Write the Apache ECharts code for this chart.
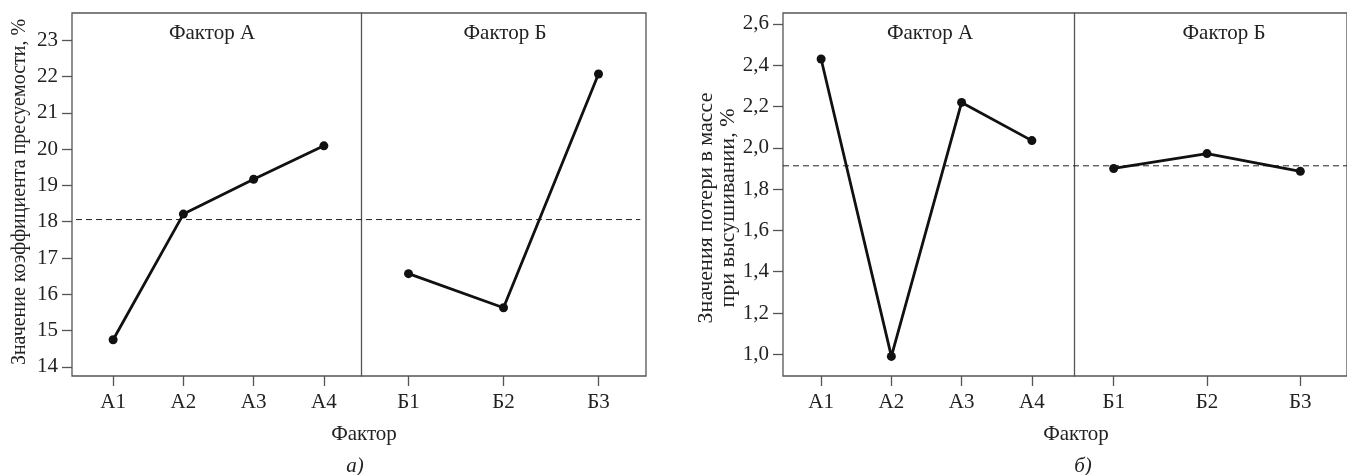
<!DOCTYPE html>
<html>
<head>
<meta charset="utf-8">
<script src="https://cdn.jsdelivr.net/npm/echarts@6/dist/echarts.min.js"></script>
<style>
  html, body { margin: 0; padding: 0; background: #fff; }
  #chart { width: 1347px; height: 475px; }
</style>
</head>
<body>
<div id="chart"></div>
<script>
// категории
const catA = ['А1', 'А2', 'А3', 'А4'];
const catB = ['Б1', 'Б2', 'Б3'];

// а) коэффициент пресуемости
const pressA = [14.75, 18.21, 19.17, 20.09];
const pressB = [16.57, 15.63, 22.07];
const pressMean = [18.06];
const pressTicks = [14, 15, 16, 17, 18, 19, 20, 21, 22, 23];

// б) потеря в массе при высушивании
const lossA = [2.43, 0.99, 2.22, 2.035];
const lossB = [1.90, 1.972, 1.886];
const lossMean = [1.913];
const lossTicks = [1.0, 1.2, 1.4, 1.6, 1.8, 2.0, 2.2, 2.4, 2.6];

const font = '"Liberation Serif", "Times New Roman", serif';
const axisGray = '#555';
const fs = 21;

const chart = echarts.init(document.getElementById('chart'));

function frameY(min, max, ticks, fmt) {
  return {
    type: 'value', min: min, max: max,
    axisLine: { show: false },
    axisTick: { show: true, customValues: ticks, length: 10, lineStyle: { color: axisGray, width: 1.3 } },
    axisLabel: { show: true, customValues: ticks, margin: 14, color: '#222', fontFamily: font, fontSize: fs, formatter: fmt },
    splitLine: { show: false }
  };
}
function hiddenY(min, max, gridIndex) {
  return { type: 'value', min: min, max: max, gridIndex: gridIndex, show: false, splitLine: { show: false } };
}
function dividerY(min, max, gridIndex, offset) {
  return {
    type: 'value', min: min, max: max, gridIndex: gridIndex, offset: offset,
    axisLine: { show: true, lineStyle: { color: axisGray, width: 1.3 } },
    axisTick: { show: false }, axisLabel: { show: false }, splitLine: { show: false }
  };
}
function catX(data, gridIndex) {
  return {
    type: 'category', data: data, gridIndex: gridIndex, boundaryGap: true,
    axisLine: { show: false },
    axisTick: { show: true, alignWithLabel: true, length: 10, lineStyle: { color: axisGray, width: 1.3 } },
    axisLabel: { margin: 16, color: '#222', fontFamily: font, fontSize: fs },
    splitLine: { show: false }
  };
}
function frameX(gridIndex) {
  return { type: 'value', min: 0, max: 1, gridIndex: gridIndex, show: false, splitLine: { show: false } };
}
function lineSeries(data, xi, yi) {
  return {
    type: 'line', data: data, xAxisIndex: xi, yAxisIndex: yi,
    symbol: 'circle', symbolSize: 9, showSymbol: true,
    itemStyle: { color: '#111' },
    lineStyle: { color: '#111', width: 2.8 },
    silent: true, animation: false, z: 5
  };
}
function meanSeries(v, xi, yi, x0, x1) {
  return {
    type: 'line', data: [[x0, v], [x1, v]], xAxisIndex: xi, yAxisIndex: yi,
    showSymbol: false, symbol: 'none',
    lineStyle: { color: '#222', width: 1, type: [6, 4] },
    silent: true, animation: false, z: 3
  };
}
function fmtComma(v) { return v.toFixed(1).replace('.', ','); }

const yMinA = 13.75, yMaxA = 23.75;
const yMinB = 0.895, yMaxB = 2.653;

function txt(x, y, s, extra) {
  return {
    type: 'text', x: x, y: y,
    style: Object.assign({ text: s, font: fs + 'px ' + font, fill: '#222', textAlign: 'center', textVerticalAlign: 'middle' }, extra || {})
  };
}

const option = {
  animation: false,
  backgroundColor: '#fff',
  grid: [
    { left: 72, top: 13, width: 574, height: 363, show: true, borderColor: axisGray, borderWidth: 1.3, backgroundColor: 'transparent' },
    { left: 78, top: 13, width: 281, height: 363 },
    { left: 361, top: 13, width: 285, height: 363 },
    { left: 783, top: 13, width: 580, height: 363, show: true, borderColor: axisGray, borderWidth: 1.3, backgroundColor: 'transparent' },
    { left: 786, top: 13, width: 281, height: 363 },
    { left: 1067, top: 13, width: 290, height: 363 }
  ],
  xAxis: [
    frameX(0), catX(catA, 1), catX(catB, 2),
    frameX(3), catX(catA, 4), catX(catB, 5)
  ],
  yAxis: [
    Object.assign(frameY(yMinA, yMaxA, pressTicks, function (v) { return String(v); }), { gridIndex: 0 }),
    hiddenY(yMinA, yMaxA, 1),
    dividerY(yMinA, yMaxA, 2, 0),
    Object.assign(frameY(yMinB, yMaxB, lossTicks, fmtComma), { gridIndex: 3 }),
    hiddenY(yMinB, yMaxB, 4),
    dividerY(yMinB, yMaxB, 5, -7)
  ],
  series: [
    meanSeries(pressMean[0], 0, 0, 0.007, 0.99),
    lineSeries(pressA, 1, 1),
    lineSeries(pressB, 2, 2),
    meanSeries(lossMean[0], 3, 3, 0.0, 1.0),
    lineSeries(lossA, 4, 4),
    lineSeries(lossB, 5, 5)
  ],
  graphic: [
    txt(212, 33, 'Фактор А'),
    txt(505, 33, 'Фактор Б'),
    txt(930, 33, 'Фактор А'),
    txt(1224, 33, 'Фактор Б'),
    txt(364, 434, 'Фактор'),
    txt(1076, 434, 'Фактор'),
    txt(355, 466, 'а)', { font: 'italic ' + fs + 'px ' + font }),
    txt(1083, 466, 'б)', { font: 'italic ' + fs + 'px ' + font }),
    Object.assign(txt(20, 192, 'Значение коэффициента пресуемости, %', { font: '20px ' + font }), { rotation: Math.PI / 2 }),
    Object.assign(txt(717, 208, 'Значения потери в массе\nпри высушивании, %', { font: '22px ' + font, lineHeight: 22 }), { rotation: Math.PI / 2 })
  ]
};

chart.setOption(option);
window.addEventListener('resize', function () { chart.resize(); });
</script>
</body>
</html>
